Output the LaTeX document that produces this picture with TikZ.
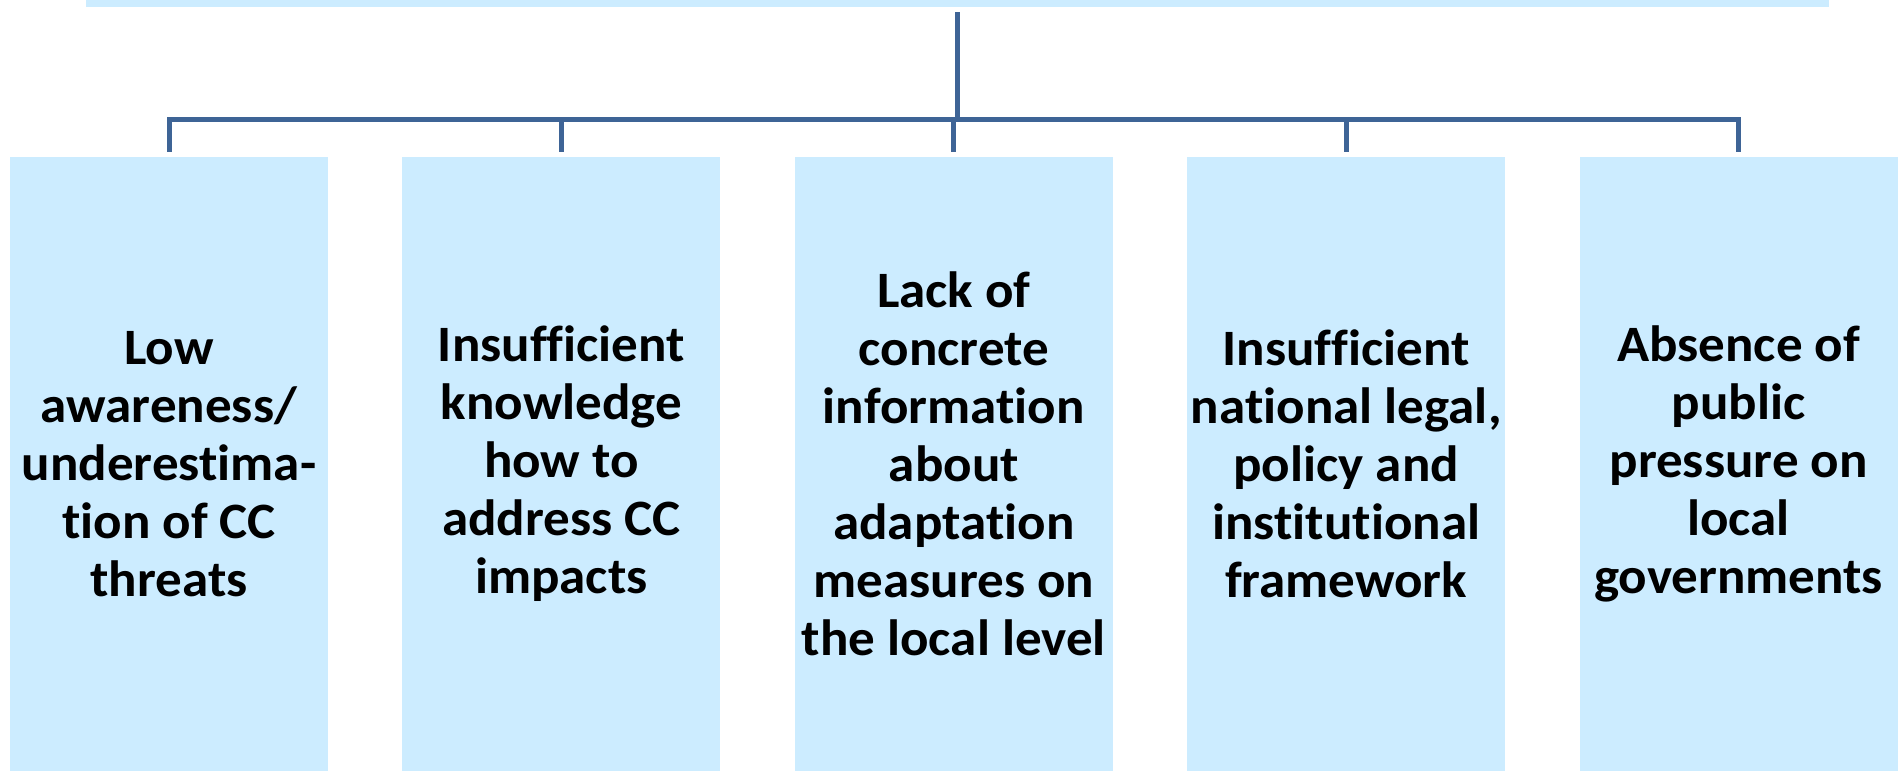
\documentclass[tikz,border=0pt]{standalone}
\usepackage{fontspec}
\setmainfont{Carlito}[Ligatures=NoCommon, FakeStretch=1.04]
\usetikzlibrary{positioning}
\definecolor{boxblue}{RGB}{204,236,255}
\definecolor{linkblue}{RGB}{62,100,150}
\tikzset{
  barrier/.style={fill=boxblue, minimum width=318pt, minimum height=614pt, inner sep=0pt,
    align=center, font=\fontsize{51}{58}\selectfont\bfseries},
  link/.style={draw=linkblue, line width=5pt}
}
\begin{document}
\begin{tikzpicture}[x=1pt, y=1pt]
	\clip (0,0) rectangle (1899,771);
	\node[fill=boxblue, minimum width=1743pt, minimum height=40pt] (goal) at (957.5,784) {};

	\node[barrier] (aware) at (169,307) {Low\\awareness/\\underestima-\\tion of CC\\threats};
	\node[barrier, right=74pt of aware] (know) {Insufficient\\knowledge\\how to\\address CC\\impacts};
	\node[barrier, right=74pt of know] (info) {Lack of\\concrete\\information\\about\\adaptation\\measures on\\the local level};
	\node[barrier, right=74pt of info] (frame) {Insufficient\\national legal,\\policy and\\institutional\\framework};
	\node[barrier, right=74pt of frame] (press) {Absence of\\public\\pressure on\\local\\governments};

	\coordinate (bus) at (0,651);
	\draw[link, shorten <=5pt] (goal.south) -- (goal.south |- bus);
	\draw[link, shorten <=5pt, shorten >=5pt] (aware.north) -- (aware.north |- bus) -- (press.north |- bus) -- (press.north);
	\foreach \b in {know, info, frame}
		\draw[link, shorten >=5pt] (\b.north |- bus) -- (\b.north);
\end{tikzpicture}
\end{document}
